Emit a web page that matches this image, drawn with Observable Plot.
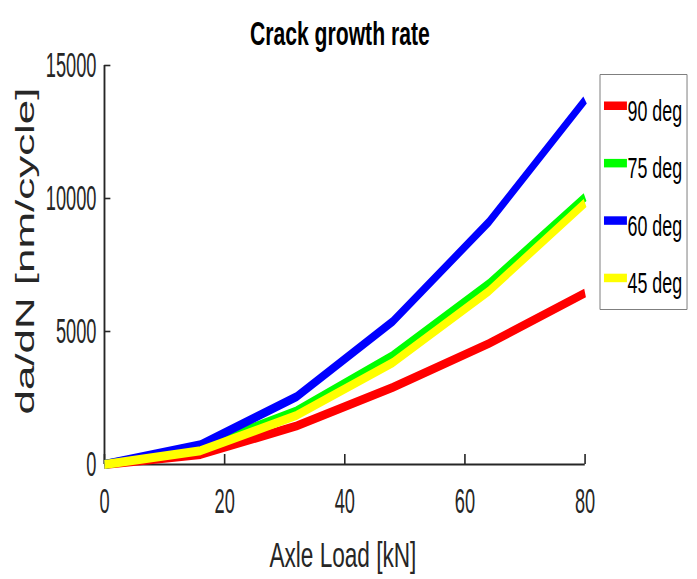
<!DOCTYPE html>
<html>
<head>
<meta charset="utf-8">
<script src="https://cdn.jsdelivr.net/npm/d3@7"></script>
<script src="https://cdn.jsdelivr.net/npm/@observablehq/plot@0.6"></script>
<style>
  html, body { margin: 0; padding: 0; background: #ffffff; }
  #chart svg { display: block; }
</style>
</head>
<body>
<div id="chart"></div>
<script>
// ---- data ----
const loads = [0, 16, 32, 48, 64, 80];            // Axle Load [kN]
const deg90 = [0, 380, 1450, 2900, 4550, 6450];   // da/dN [nm/cycle]
const deg75 = [0, 640, 2020, 4100, 6800, 10050];
const deg60 = [0, 740, 2550, 5380, 9120, 13700];
const deg45 = [0, 520, 1850, 3830, 6520, 9830];
const seriesNames = ["90 deg", "75 deg", "60 deg", "45 deg"];
const seriesColors = ["#ff0000", "#00ff00", "#0000ff", "#ffff00"];
const xTicks = [0, 20, 40, 60, 80];
const yTicks = [0, 5000, 10000, 15000];
const titleText = "Crack growth rate";
const xLabelText = "Axle Load [kN]";
const yLabelText = "da/dN [nm/cycle]";

// ---- layout (virtual canvas, squeezed horizontally to 697px) ----
const OUT_W = 697, H = 579, W = 1124;
const FONT = "'Liberation Sans', Arial, Helvetica, sans-serif";
const allSeries = [deg90, deg75, deg60, deg45];
const rows = (vals) => loads.map((x, i) => ({x, y: vals[i]}));

const plot = Plot.plot({
  width: W,
  height: H,
  marginLeft: 168,
  marginRight: 181,
  marginTop: 65,
  marginBottom: 115,
  style: {fontFamily: FONT, fontSize: "35px", color: "#262626", background: "#ffffff", overflow: "visible"},
  x: {domain: [0, 80]},
  y: {domain: [0, 15000]},
  marks: [
    Plot.ruleY([0], {stroke: "#262626", strokeWidth: 2}),
    Plot.ruleX([0], {stroke: "#262626", strokeWidth: 3}),
    Plot.axisX({ticks: xTicks, tickSize: -10, tickPadding: 34, tickFormat: "d", label: null, strokeWidth: 2.6, fontSize: 35}),
    Plot.axisY({ticks: yTicks, tickSize: -10, tickPadding: 23, tickFormat: "d", label: null, strokeWidth: 1.6, fontSize: 35}),
    ...allSeries.map((vals, i) => Plot.line(rows(vals), {
      x: "x", y: "y",
      stroke: seriesColors[i],
      strokeWidth: 9,
      strokeLinejoin: "miter",
      strokeLinecap: "butt"
    }))
  ]
});

plot.setAttribute("viewBox", `0 0 ${W} ${H}`);
plot.setAttribute("preserveAspectRatio", "none");
plot.setAttribute("width", OUT_W);
plot.setAttribute("height", H);
plot.style.width = OUT_W + "px";
plot.style.height = H + "px";
plot.style.maxWidth = "none";

const svg = d3.select(plot);

// title
svg.append("text")
  .attr("x", 548).attr("y", 45)
  .attr("text-anchor", "middle")
  .attr("font-family", FONT).attr("font-weight", "bold").attr("font-size", 34)
  .attr("fill", "#000000")
  .attr("textLength", 290).attr("lengthAdjust", "spacingAndGlyphs")
  .text(titleText);

// x label
svg.append("text")
  .attr("x", 553).attr("y", 567)
  .attr("text-anchor", "middle")
  .attr("font-family", FONT).attr("font-size", 35)
  .attr("fill", "#262626")
  .attr("textLength", 237).attr("lengthAdjust", "spacingAndGlyphs")
  .text(xLabelText);

// y label
svg.append("text")
  .attr("transform", "translate(55,251) rotate(-90)")
  .attr("text-anchor", "middle")
  .attr("font-family", FONT).attr("font-size", 42)
  .attr("fill", "#262626")
  .attr("textLength", 327).attr("lengthAdjust", "spacingAndGlyphs")
  .text(yLabelText);

// legend
const lg = svg.append("g");
lg.append("rect")
  .attr("x", 967.6).attr("y", 74.5)
  .attr("width", 140.3).attr("height", 235)
  .attr("fill", "#ffffff").attr("stroke", "#7f7f7f").attr("stroke-width", 1)
  .attr("vector-effect", "non-scaling-stroke");
seriesNames.forEach((name, i) => {
  const base = 121 + i * 57.4;
  lg.append("rect")
    .attr("x", 974).attr("y", base - 19.5)
    .attr("width", 37).attr("height", 8.5)
    .attr("fill", seriesColors[i]);
  lg.append("text")
    .attr("x", 1012).attr("y", base)
    .attr("text-anchor", "start")
    .attr("font-family", FONT).attr("font-size", 29.5)
    .attr("fill", "#000000")
    .attr("textLength", 88).attr("lengthAdjust", "spacingAndGlyphs")
    .text(name);
});

document.getElementById("chart").appendChild(plot);

// condense tick labels a little more, like the reference
plot.querySelectorAll('[aria-label$="tick label"] text').forEach(t => {
  const len = t.getComputedTextLength();
  t.setAttribute("textLength", len * 0.84);
  t.setAttribute("lengthAdjust", "spacingAndGlyphs");
});
</script>
</body>
</html>
